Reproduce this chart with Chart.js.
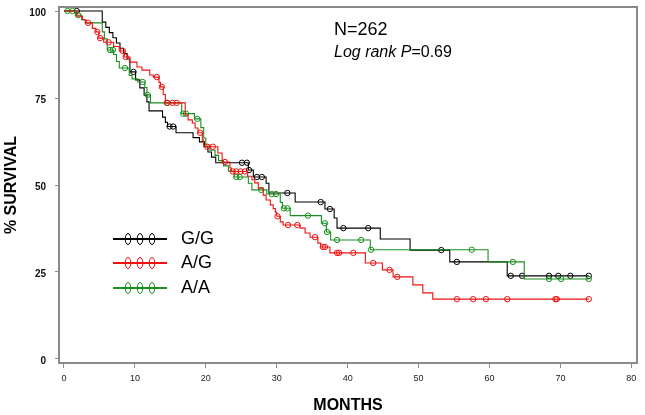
<!DOCTYPE html>
<html><head><meta charset="utf-8">
<script src="https://cdn.jsdelivr.net/npm/chart.js@4.4.0/dist/chart.umd.min.js"></script>
<style>html,body{margin:0;padding:0;background:#fff;}#wrap{width:645px;height:415px;}</style>
</head><body><div id="wrap"><canvas id="c" width="645" height="415"></canvas></div>
<script>
const groups = ['G/G', 'A/G', 'A/A'];
const xTicks = [0, 10, 20, 30, 40, 50, 60, 70, 80];
const yTicks = [0, 25, 50, 75, 100];
const xTitle = 'MONTHS';
const yTitle = '% SURVIVAL';
const nText = 'N=262';
const pLabel = 'Log rank P';
const pValue = '=0.69';

// G/G (black) step curve
const ggTimes = [0, 5.4, 5.9, 6.4, 6.9, 7.4, 7.9, 8.4, 8.9, 9.3, 10.1, 10.7, 11.3, 11.7, 12.0, 13.9, 14.3, 14.6, 15.8, 18.2, 19.1, 19.8, 20.3, 20.8, 21.4, 26.0, 26.7, 28.5, 28.9, 32.6, 36.8, 38.1, 38.5, 44.6, 48.8, 54.4, 62.5, 74.0];
const ggSurv  = [100, 96.8, 95.3, 93.8, 92.3, 90.8, 89.3, 87.8, 86.2, 82.5, 80.2, 77.9, 75.8, 73.9, 71.3, 69.5, 68, 66.8, 65, 63.6, 62.4, 61, 59.5, 58, 56.4, 54.3, 52.3, 50.5, 47.7, 45.1, 43.1, 40.5, 37.6, 34.5, 31.3, 27.9, 23.9, 23.9];
const ggCensT = [1.8, 9.8, 14.9, 15.4, 25.1, 25.8, 26.1, 27.2, 27.9, 31.5, 36.2, 37.5, 39.4, 42.9, 53.2, 55.4, 63.0, 64.6, 68.4, 69.7, 71.4, 74.0];
const ggCensS = [100, 82.5, 66.8, 66.8, 56.4, 56.4, 54.3, 52.3, 52.3, 47.7, 45.1, 43.1, 37.6, 37.6, 31.3, 27.9, 23.9, 23.9, 23.9, 23.9, 23.9, 23.9];

// A/G (red) step curve
const agTimes = [0, 1.8, 2.6, 3.1, 4.0, 4.5, 4.9, 5.6, 7.0, 7.8, 8.5, 9.3, 10.3, 11.0, 12.1, 12.6, 13.4, 13.6, 14.0, 14.3, 17.1, 17.5, 18.1, 18.5, 18.9, 19.5, 19.7, 21.7, 22.3, 23.4, 23.6, 25.9, 26.5, 26.9, 27.4, 28.1, 28.5, 29.1, 29.5, 29.8, 30.0, 30.5, 30.9, 33.3, 34.0, 34.7, 35.8, 36.2, 37.5, 42.5, 44.9, 46.4, 49.2, 50.6, 52.0, 74.0];
const agSurv  = [100, 98.5, 97.5, 96.6, 95, 94, 92.2, 91, 89.8, 88.5, 86.8, 85.3, 83.9, 83, 81.6, 81, 79.5, 78.2, 76, 73.6, 70.1, 68.7, 67.8, 66.4, 65, 62.9, 61, 59.2, 56.6, 54.9, 53.9, 52.5, 51.5, 50.6, 49.1, 47.1, 45.7, 44.3, 43.2, 42.2, 41, 39.4, 38.5, 37.6, 36.2, 35, 33.3, 32.2, 30.5, 27.6, 25.6, 23.6, 21.3, 19.0, 17.2, 17.2];
const agCensT = [3.4, 4.7, 5.1, 6.3, 8.3, 8.7, 13.1, 13.8, 14.5, 15.3, 15.9, 19.2, 20.2, 21.0, 22.7, 23.8, 24.3, 24.9, 25.5, 30.1, 31.6, 32.9, 35.4, 36.5, 36.8, 38.5, 38.8, 40.8, 43.6, 45.9, 47.0, 55.4, 57.7, 59.5, 62.5, 69.3, 69.5, 74.0];
const agCensS = [96.6, 94, 92.2, 91, 88.5, 86.8, 81, 78.2, 73.6, 73.6, 73.6, 65, 61, 61, 56.6, 53.9, 53.9, 53.9, 53.9, 41, 38.5, 38.5, 35, 32.2, 32.2, 30.5, 30.5, 30.5, 27.6, 25.6, 23.6, 17.2, 17.2, 17.2, 17.2, 17.2, 17.2, 17.2];

// A/A (green) step curve
const aaTimes = [0, 1.6, 2.5, 3.0, 5.4, 5.7, 6.1, 7.0, 7.4, 7.8, 9.2, 9.6, 10.4, 11.4, 11.7, 12.2, 16.6, 18.4, 19.3, 19.7, 20.0, 20.6, 21.3, 21.8, 22.5, 23.2, 24.0, 26.0, 26.5, 28.6, 30.5, 30.8, 31.9, 36.3, 37.0, 37.6, 43.2, 59.8, 64.9, 74.0];
const aaSurv  = [100, 98.8, 97.5, 96.6, 94, 92, 88.8, 87.5, 85.5, 83.6, 81.5, 80.5, 79.6, 78, 75.9, 73.6, 70.5, 69, 66.5, 63.5, 61.5, 60, 58.5, 57, 55.5, 54, 52.3, 50.5, 48.6, 47.4, 45, 43.3, 41.2, 39, 36.5, 34.2, 31.4, 27.9, 23, 23];
const aaCensT = [0.5, 1.2, 2.0, 6.5, 6.9, 8.6, 11.1, 11.8, 14.6, 16.8, 17.2, 18.8, 24.3, 24.8, 27.8, 29.3, 29.9, 31.0, 31.5, 34.4, 36.8, 37.1, 38.5, 41.9, 43.3, 57.5, 63.3, 68.4, 70.1, 74.0];
const aaCensS = [100, 100, 98.8, 88.8, 88.8, 83.6, 79.6, 75.9, 73.6, 70.5, 70.5, 69, 52.3, 52.3, 48.6, 47.4, 47.4, 43.3, 43.3, 41.2, 39, 36.5, 34.2, 34.2, 31.4, 31.4, 27.9, 23, 23, 23];

const colGG = '#000000', colAG = '#f01010', colAA = '#17901c';
const FONT = "'Liberation Sans', Arial, sans-serif";

const pts = (t, s) => t.map((v, i) => ({x: v, y: s[i]}));
function curve(label, t, s, col) {
  return {type: 'line', label, data: pts(t, s), stepped: 'before', borderColor: col, borderWidth: 1.1, pointRadius: 0, fill: false};
}
function cens(label, t, s, col) {
  return {type: 'scatter', label, data: pts(t, s), showLine: false, pointStyle: 'circle', pointRadius: 2.7, borderColor: col, backgroundColor: 'rgba(0,0,0,0)', pointBorderWidth: 1};
}

const extras = {
  id: 'extras',
  afterDraw(chart) {
    const {ctx, chartArea: a} = chart;
    ctx.save();
    ctx.strokeStyle = '#8a8a8a';
    ctx.lineWidth = 2;
    ctx.beginPath();
    ctx.moveTo(a.left - 1, a.top);
    ctx.lineTo(a.right, a.top);
    ctx.lineTo(a.right, a.bottom + 1);
    ctx.stroke();

    ctx.fillStyle = '#000';
    ctx.textBaseline = 'alphabetic';
    ctx.textAlign = 'left';
    ctx.font = '18px ' + FONT;
    ctx.fillText(nText, 334, 35);
    ctx.font = 'italic 16px ' + FONT;
    ctx.fillText(pLabel, 334, 57);
    const w = ctx.measureText(pLabel).width;
    ctx.font = '16px ' + FONT;
    ctx.fillText(pValue, 334 + w, 57);

    const cols = [colGG, colAG, colAA];
    const ly = [239, 263, 288];
    groups.forEach((g, i) => {
      ctx.strokeStyle = cols[i];
      ctx.lineWidth = 2;
      ctx.beginPath();
      ctx.moveTo(113, ly[i]);
      ctx.lineTo(167, ly[i]);
      ctx.stroke();
      ctx.lineWidth = 1;
      [128, 140, 152].forEach(cx => {
        ctx.beginPath();
        ctx.ellipse(cx, ly[i], 2.8, 5.5, 0, 0, Math.PI * 2);
        ctx.stroke();
      });
      ctx.fillStyle = '#000';
      ctx.font = '18px ' + FONT;
      ctx.fillText(g, 181, ly[i] + 5);
    });
    ctx.restore();
  }
};

new Chart(document.getElementById('c'), {
  data: {
    datasets: [
      curve(groups[1], agTimes, agSurv, colAG),
      cens(groups[1] + ' censored', agCensT, agCensS, colAG),
      curve(groups[2], aaTimes, aaSurv, colAA),
      cens(groups[2] + ' censored', aaCensT, aaCensS, colAA),
      curve(groups[0], ggTimes, ggSurv, colGG),
      cens(groups[0] + ' censored', ggCensT, ggCensS, colGG)
    ]
  },
  options: {
    responsive: false,
    animation: false,
    devicePixelRatio: 1,
    layout: {padding: {top: 7, right: 8, left: 0, bottom: 0}},
    plugins: {legend: {display: false}, tooltip: {enabled: false}},
    scales: {
      x: {
        type: 'linear', min: -0.7, max: 80.8,
        afterBuildTicks: s => { s.ticks = xTicks.map(v => ({value: v})); },
        afterFit: s => { s.height = 52; s.paddingLeft = 0; s.paddingRight = 0; },
        grid: {display: true, drawOnChartArea: false, drawTicks: true, tickLength: 5, color: '#8a8a8a', lineWidth: 1},
        border: {display: true, color: '#8a8a8a', width: 2},
        ticks: {font: {family: FONT, size: 9}, color: '#222', padding: 5, maxRotation: 0, autoSkip: false},
        title: {display: true, text: xTitle, color: '#000', font: {family: FONT, size: 16, weight: 'bold'}, padding: {top: 0, bottom: 0}}
      },
      y: {
        type: 'linear', min: -1.15, max: 101.15,
        afterBuildTicks: s => { s.ticks = yTicks.map(v => ({value: v})); },
        afterFit: s => { s.width = 59; s.paddingTop = 0; s.paddingBottom = 0; },
        grid: {display: true, drawOnChartArea: false, drawTicks: true, tickLength: 4, color: '#8a8a8a', lineWidth: 1},
        border: {display: true, color: '#8a8a8a', width: 2},
        ticks: {font: {family: FONT, size: 10, weight: 'bold'}, color: '#111', padding: 9, labelOffset: 2, autoSkip: false},
        title: {display: true, text: yTitle, color: '#000', font: {family: FONT, size: 16, weight: 'bold'}, padding: {top: 2, bottom: 0}}
      }
    }
  },
  plugins: [extras]
});
</script>
</body></html>
